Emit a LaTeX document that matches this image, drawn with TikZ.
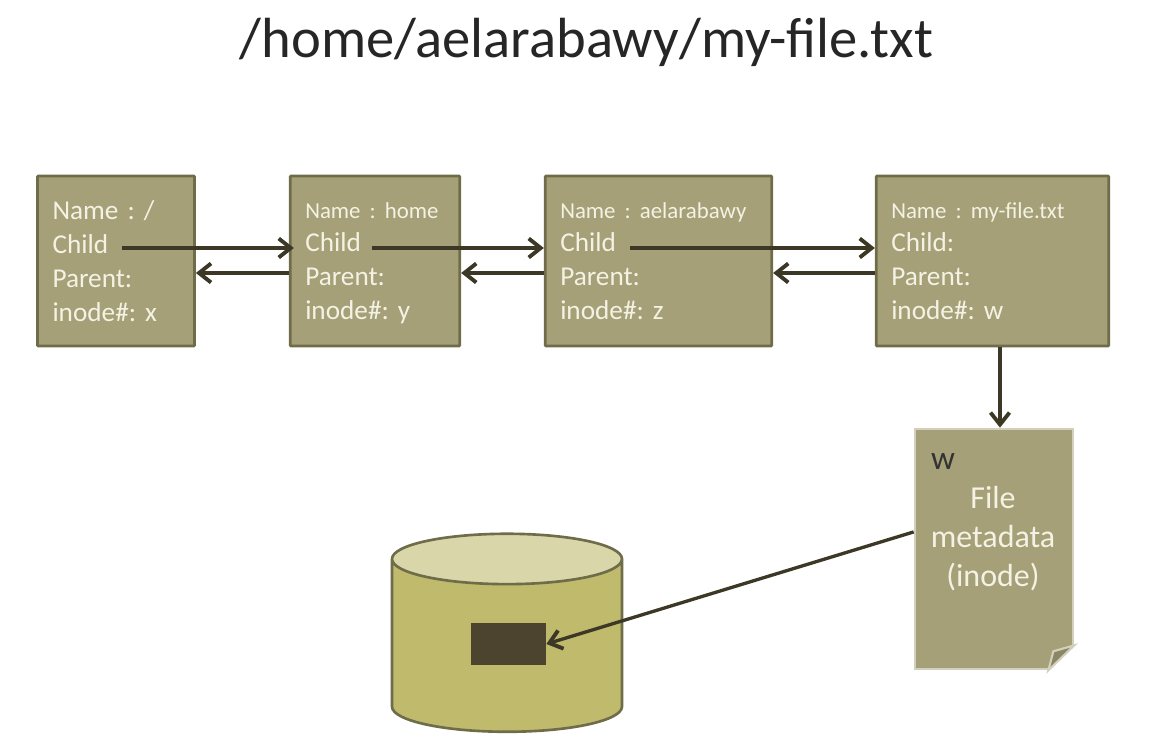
\documentclass[tikz,border=0pt]{standalone}
\usepackage{fontspec}
\setmainfont{Carlito}
\usetikzlibrary{arrows.meta,calc,shapes.geometric}
\definecolor{boxfill}{HTML}{A5A077}
\definecolor{boxline}{HTML}{6F6C4A}
\definecolor{boxtext}{HTML}{F4F2E4}
\definecolor{arrowcol}{HTML}{3D3826}
\definecolor{diskbody}{HTML}{BFBA6C}
\definecolor{disktop}{HTML}{D9D7A9}
\definecolor{blockfill}{HTML}{4D4430}
\definecolor{pageline}{HTML}{D2D0BC}
\definecolor{foldfill}{HTML}{8A8766}

\begin{document}
\frenchspacing
\begin{tikzpicture}[
    entry/.style={draw=boxline,line width=1.6pt,rounded corners=0.5pt,fill=boxfill,text=boxtext,font=\fontsize{15.5}{19.2}\selectfont, align=left, minimum height=3.4cm, inner xsep=0.3cm, anchor=center},
    bigentry/.style={entry,font=\fontsize{15.5}{19.4}\selectfont},
    page/.style={draw=pageline,line width=1.5pt,fill=boxfill, minimum width=3.16cm, minimum height=4.8cm},
    link/.style={draw=arrowcol,line width=2.3pt,-{Straight Barb[length=2.4mm,width=3.8mm,line width=2.2pt]}},
    thinlink/.style={draw=arrowcol,line width=1.9pt,-{Straight Barb[length=2.4mm,width=3.8mm,line width=2.2pt]}}
    ]
        %cadre
\useasboundingbox (0,0) rectangle (23,14.92);

    \node[font=\fontsize{32.2}{40}\selectfont,text=black!85] (title) at (11.73,14.07) {/home/aelarabawy/my-file.txt};

    \node[bigentry,text width=2.54cm] (root)  at (2.32,9.70)  {Name : /\\Child\\Parent:\\inode\#: x};
    \node[entry,text width=2.79cm] (home)     at (7.50,9.70)  {{\fontsize{13}{19.2}\selectfont Name : home}\\Child\\Parent:\\inode\#: \smash{y}};
    \node[entry,text width=3.93cm] (user)     at (13.17,9.70) {{\fontsize{13}{19.2}\selectfont Name : aelarabawy}\\Child\\Parent:\\inode\#: z};
    \node[entry,text width=4.05cm] (file)     at (19.85,9.70) {{\fontsize{13}{19.2}\selectfont Name : my-file.txt}\\Child:\\Parent:\\inode\#: w};

    \node[page] (inode) at (19.88,3.94) {};
    \node[font=\fontsize{19}{19}\selectfont,text=black!80] (inodeid) at (18.86,5.68) {w};
    \node[font=\fontsize{18.2}{22.2}\selectfont,text=boxtext,align=center] (inodetext) at (19.86,4.14) {File\\metadata\\(inode)};

    %coin plie
    \fill[white] ($(inode.south east)+(-0.52,0)$) -- (inode.south east) -- ($(inode.south east)+(0,0.5)$) -- cycle;
    \filldraw[draw=pageline,line width=1.2pt,fill=foldfill] ($(inode.south east)+(-0.52,0)$) -- ($(inode.south east)+(0,0.5)$) -- ($(inode.south east)+(-0.42,0.38)$) -- cycle;

    \node[cylinder,shape border rotate=90,aspect=4.3,draw=boxline,line width=1.5pt,cylinder uses custom fill,cylinder body fill=diskbody,cylinder end fill=disktop,minimum width=4.6cm,minimum height=3.96cm] (disk) at (10.14,1.92) {};
    \node[fill=blockfill,minimum width=1.5cm,minimum height=0.84cm] (block) at (10.17,2.04) {};

    \coordinate (rootchild) at (2.44,9.96);
    \coordinate (homechild) at (7.44,9.96);
    \coordinate (userchild) at (12.60,9.96);
    \coordinate (backline)  at (0,9.46);

    \path (rootchild) edge [link] ($(home.west |- rootchild)+(0.1,0)$);
    \path (homechild) edge [link] (user.west |- homechild);
    \path (userchild) edge [link] (file.west |- userchild);
    \path (home.west |- backline) edge [link] (root.east |- backline);
    \path (user.west |- backline) edge [link] (home.east |- backline);
    \path (file.west |- backline) edge [link] (user.east |- backline);
    \path ($(file.south)+(0.15,0)$) edge [thinlink] ($(inode.north)+(0.12,0)$);
    \path (inode.168.5) edge [thinlink] (block.east);
\end{tikzpicture}
\end{document}
